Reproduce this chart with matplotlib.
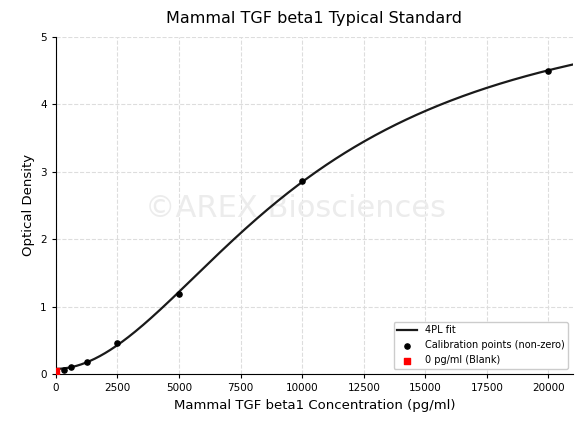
import numpy as np
import matplotlib
matplotlib.use("Agg")
import matplotlib.pyplot as plt

# Calibration data
conc = [312.5, 625, 1250, 2500, 5000, 10000, 20000]
od = [0.06, 0.10, 0.18, 0.46, 1.19, 2.86, 4.50]
blank_conc = [0]
blank_od = [0.04]

title = "Mammal TGF beta1 Typical Standard"
xlabel = "Mammal TGF beta1 Concentration (pg/ml)"
ylabel = "Optical Density"
watermark = "\u00a9AREX Biosciences"

# 4PL fit: grid over (b, c), linear least squares for (a, d)
x = np.array(conc, float)
y = np.array(od, float)
best = None
for b in np.linspace(1.0, 3.0, 201):
    for c in np.linspace(4000, 25000, 421):
        g = 1.0 / (1.0 + (x / c) ** b)
        A = np.column_stack([g, 1 - g])
        coef, *_ = np.linalg.lstsq(A, y, rcond=None)
        r = np.sum((A @ coef - y) ** 2)
        if best is None or r < best[0]:
            best = (r, coef[0], b, c, coef[1])
_, a, b, c, d = best

xs = np.linspace(0, 21000, 600)
ys = d + (a - d) / (1 + (xs / c) ** b)

fig = plt.figure(figsize=(5.76, 4.23), dpi=100)
ax = fig.add_axes([0.097, 0.116, 0.898, 0.797])
ax.plot(xs, ys, color="#1a1a1a", lw=1.6, label="4PL fit", zorder=3)
ax.scatter(conc, od, color="black", s=14, label="Calibration points (non-zero)", zorder=4)
ax.scatter(blank_conc, blank_od, color="red", marker="s", s=14, label="0 pg/ml (Blank)", zorder=4)

ax.set_xlim(0, 21000)
ax.set_ylim(0, 5)
ax.set_xticks(np.arange(0, 20001, 2500))
ax.set_yticks(np.arange(0, 6, 1))
ax.tick_params(labelsize=7.5, length=3)
ax.grid(True, ls="--", color="#dddddd", lw=0.8)
ax.set_axisbelow(True)
for s in ["top", "right"]:
    ax.spines[s].set_visible(False)
ax.set_title(title, fontsize=11.5, pad=10)
ax.set_xlabel(xlabel, fontsize=9.5)
ax.set_ylabel(ylabel, fontsize=9.5)
ax.text(0.464, 0.49, watermark, transform=ax.transAxes, fontsize=22,
        color="#ececec", ha="center", va="center", zorder=1)
ax.legend(loc="lower right", fontsize=7, frameon=True, framealpha=1,
          edgecolor="#cccccc", handlelength=2)

fig.savefig("out.png", dpi=100)
